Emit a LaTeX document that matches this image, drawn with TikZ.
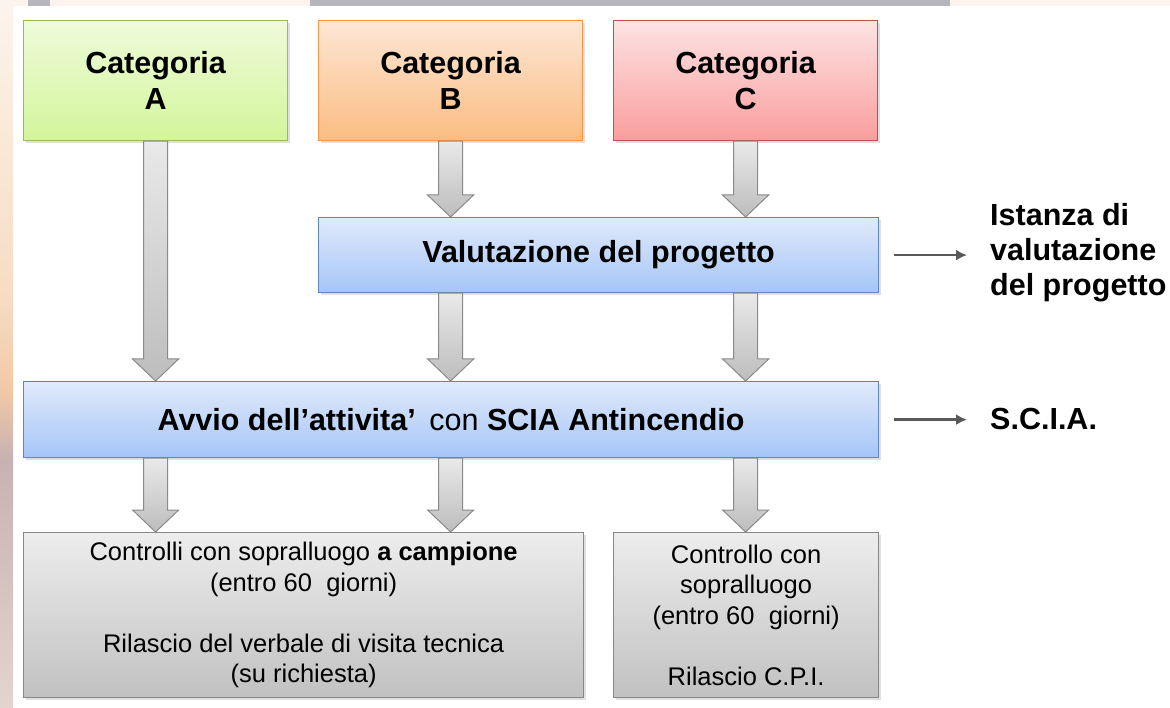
\documentclass[tikz,border=0pt]{standalone}
\usepackage{fontspec}
\setmainfont{Liberation Sans}
\usetikzlibrary{shadows,arrows.meta,calc}
\definecolor{Atop}{HTML}{EEFBDA}
\definecolor{Abot}{HTML}{D3F59A}
\definecolor{Aedge}{HTML}{9BBB59}
\definecolor{Btop}{HTML}{FDE7D5}
\definecolor{Bbot}{HTML}{FBBC82}
\definecolor{Bedge}{HTML}{F79646}
\definecolor{Ctop}{HTML}{FDE3E3}
\definecolor{Cbot}{HTML}{FA9D9D}
\definecolor{Cedge}{HTML}{C0504D}
\definecolor{Vtop}{HTML}{E0EAFB}
\definecolor{Vbot}{HTML}{A5C5F7}
\definecolor{Vedge}{HTML}{5E86C0}
\definecolor{Gtop}{HTML}{EDEDED}
\definecolor{Gbot}{HTML}{C1C1C1}
\definecolor{Gedge}{HTML}{878787}
\definecolor{Ktop}{HTML}{E9E9E9}
\definecolor{Kbot}{HTML}{BDBDBD}
\definecolor{Kedge}{HTML}{8A8A8A}
\definecolor{connC}{HTML}{595959}
\definecolor{bg1}{HTML}{FCF4EC}
\definecolor{bg2}{HTML}{F6DCC2}
\definecolor{bg3}{HTML}{F2C9A6}
\definecolor{bg4}{HTML}{C6B2B2}
\definecolor{bg5}{HTML}{E4D4CF}
\definecolor{barC}{HTML}{B5B5BB}
\newcommand\blockarr[2]{%
  \draw[blockarrow] let \p1=(#1), \p2=(#2) in
    (\x1-12pt,\y1) -- (\x1+12pt,\y1) -- (\x1+12pt,\y2+22pt) -- (\x1+23pt,\y2+22pt)
    -- (\x1,\y2) -- (\x1-23pt,\y2+22pt) -- (\x1-12pt,\y2+22pt) -- cycle;}
\begin{document}
\begin{tikzpicture}[x=1pt,y=-1pt,
  box/.style={draw, line width=1.2pt, inner sep=0pt, anchor=north west, align=center,
    drop shadow={shadow xshift=2pt, shadow yshift=-2.5pt, opacity=0.25}},
  catbox/.style={box, minimum width=264pt, minimum height=120pt,
    font=\fontsize{30.5}{36}\selectfont\bfseries},
  bluebox/.style={box, top color=Vtop, bottom color=Vbot, draw=Vedge,
    font=\fontsize{30.5}{36}\selectfont\bfseries},
  graybox/.style={box, top color=Gtop, bottom color=Gbot, draw=Gedge, minimum height=165pt,
    font=\fontsize{25.5}{30.5}\selectfont},
  blockarrow/.style={draw=Kedge, line width=1pt, top color=Ktop, bottom color=Kbot},
  conn/.style={draw=connC, line width=2.4pt, -{Latex[length=11pt,width=11pt]}},
  lab/.style={anchor=west, inner sep=0pt, align=left, font=\fontsize{30.5}{35}\selectfont\bfseries}
]
\useasboundingbox (0,0) rectangle (1170,708);
% background
\fill[white] (0,0) rectangle (1170,708);
\shade[top color=bg1, bottom color=bg2] (0,0) rectangle (13,300);
\shade[top color=bg2, bottom color=bg3] (0,300) rectangle (13,390);
\shade[top color=bg3, bottom color=bg4] (0,390) rectangle (13,460);
\shade[top color=bg4, bottom color=bg5] (0,460) rectangle (13,708);
\fill[bg1] (0,0) rectangle (1170,6);
\fill[barC] (310,0) rectangle (950,6);
\fill[barC] (28,0) rectangle (50,6);
% boxes
\node[catbox, top color=Atop, bottom color=Abot, draw=Aedge] (A) at (23,20) {Categoria\\A};
\node[catbox, top color=Btop, bottom color=Bbot, draw=Bedge] (B) at (318,20) {Categoria\\B};
\node[catbox, top color=Ctop, bottom color=Cbot, draw=Cedge] (C) at (613,20) {Categoria\\C};
\node[bluebox, minimum width=560pt, minimum height=75pt] (V) at (318,217) {Valutazione del progetto};
\node[bluebox, minimum width=855pt, minimum height=76pt] (S) at (23,381)
  {Avvio dell’attivita’\, {\mdseries con} SCIA Antincendio};
\node[graybox, minimum width=560pt] (L) at (23,532)
  {Controlli con sopralluogo \textbf{a campione}\\(entro 60\ \ giorni)\\[30.5pt]Rilascio del verbale di visita tecnica\\(su richiesta)};
\node[graybox, minimum width=265pt] (R) at (613,532)
  {Controllo con\\sopralluogo\\(entro 60\ \ giorni)\\[30.5pt]Rilascio C.P.I.};
% block arrows
\blockarr{A.south}{S.north -| A.south}
\blockarr{B.south}{V.north -| B.south}
\blockarr{C.south}{V.north -| C.south}
\blockarr{V.south -| B.south}{S.north -| B.south}
\blockarr{V.south -| C.south}{S.north -| C.south}
\blockarr{S.south -| A.south}{L.north -| A.south}
\blockarr{S.south -| B.south}{L.north -| B.south}
\blockarr{S.south -| C.south}{R.north}
% right labels
\node[lab] (I) at (990,253) {Istanza di\\valutazione\\del progetto};
\node[lab] (SC) at (990,419) {S.C.I.A.};
\draw[conn] ([xshift=15pt]V.east) -- ([xshift=-23pt]I.west |- V.east);
\draw[conn] ([xshift=15pt]S.east) -- ([xshift=-23pt]SC.west |- S.east);
\end{tikzpicture}
\end{document}
